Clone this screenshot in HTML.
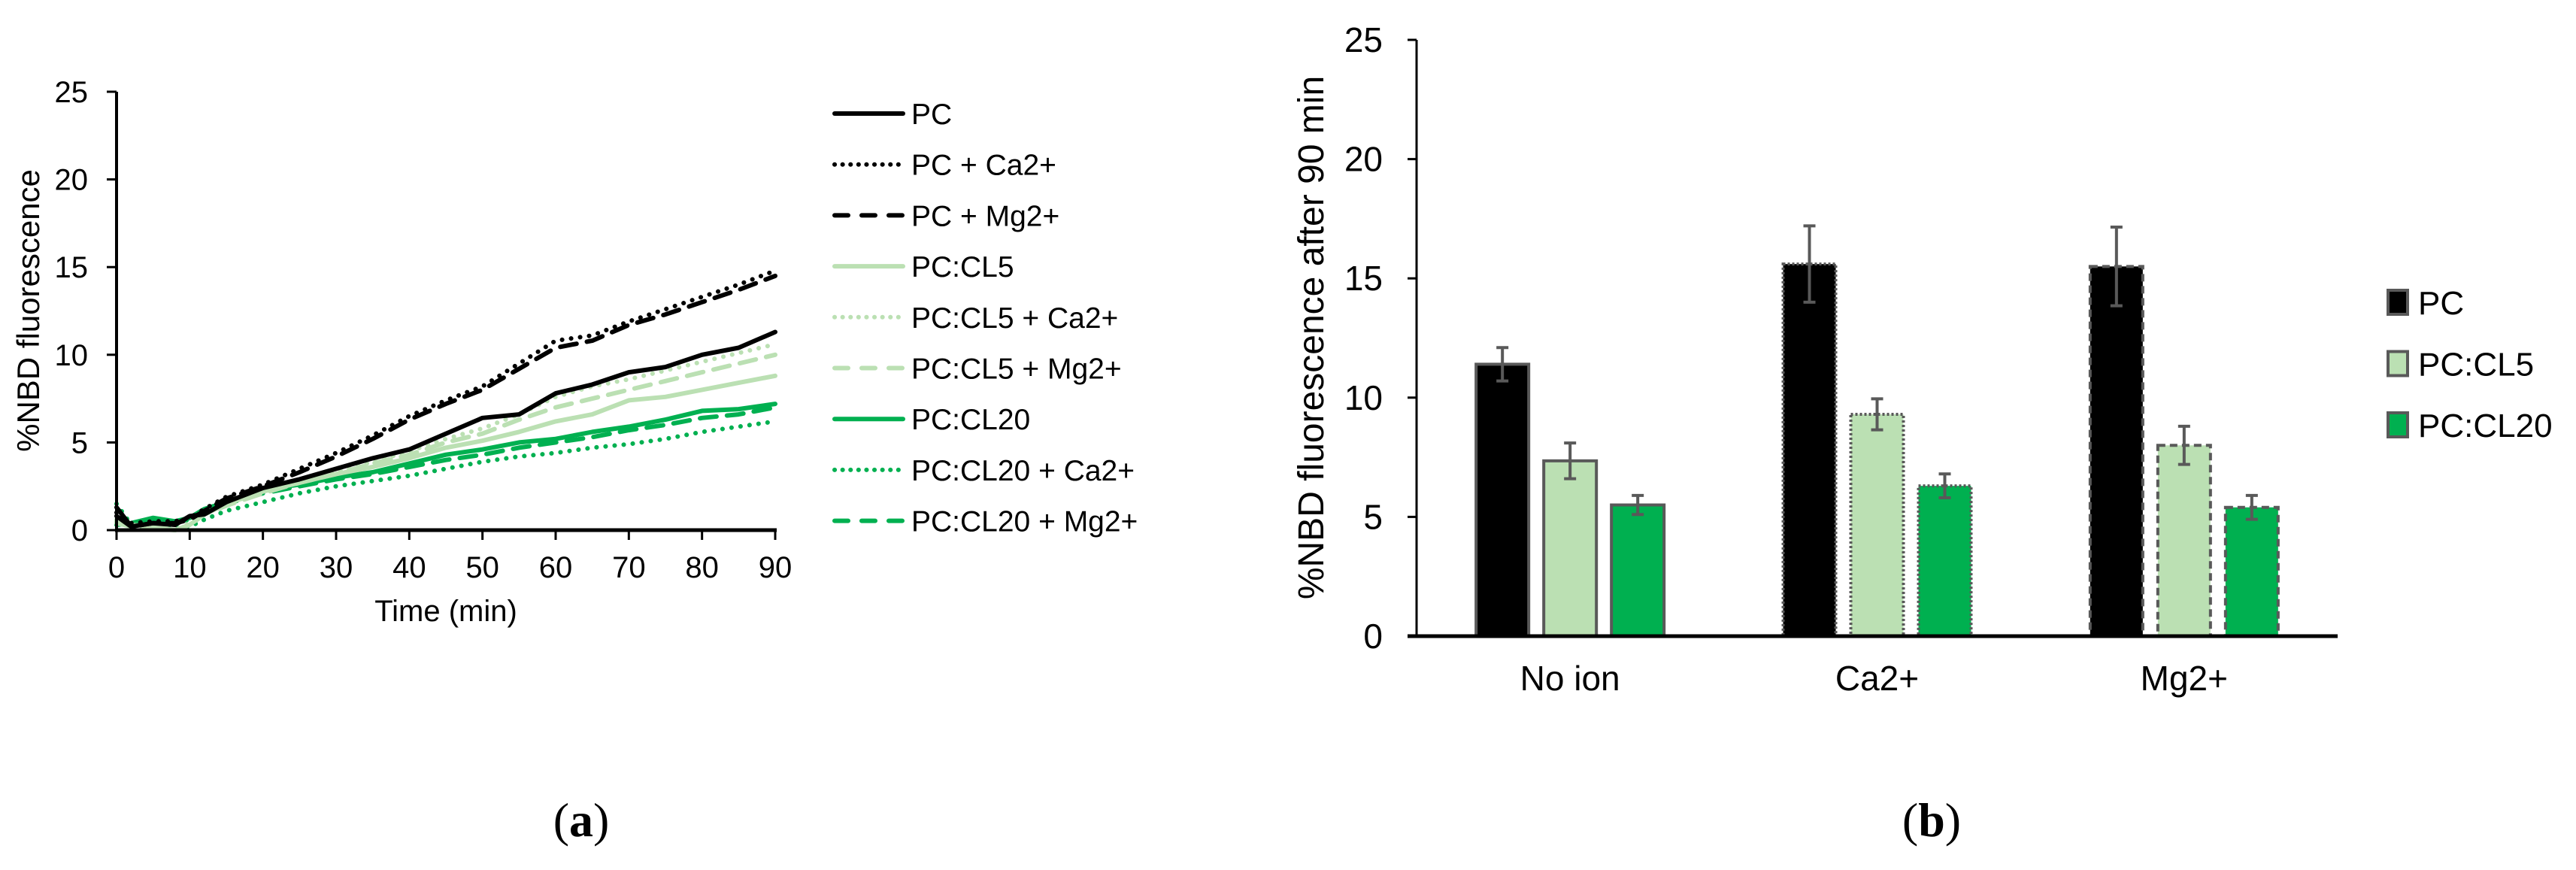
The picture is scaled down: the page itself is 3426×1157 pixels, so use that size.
<!DOCTYPE html>
<html><head><meta charset="utf-8"><style>
html,body{margin:0;padding:0;background:#fff}
svg{display:block}
text{font-family:"Liberation Sans",Arial,sans-serif;fill:#000}
</style></head><body>
<svg id="fig" width="3426" height="1157" viewBox="0 0 3426 1157" xmlns="http://www.w3.org/2000/svg">
<g id="chartA"></g>
<g id="chartB"></g>
<text x="773" y="1112" font-size="64" text-anchor="middle" style="font-family:'Liberation Serif',serif">(<tspan font-weight="bold">a</tspan>)</text>
<text x="2569" y="1112" font-size="64" text-anchor="middle" style="font-family:'Liberation Serif',serif">(<tspan font-weight="bold">b</tspan>)</text>
</svg>
<script>
// ---------- Chart A data ----------
const timesA = [0,2,5,8,10,12,15,20,25,30,35,40,45,50,55,60,65,70,75,80,85,90];
const seriesNames = ["PC","PC + Ca2+","PC + Mg2+","PC:CL5","PC:CL5 + Ca2+","PC:CL5 + Mg2+","PC:CL20","PC:CL20 + Ca2+","PC:CL20 + Mg2+"];
const pcVals      = [1.3,0.2,0.4,0.3,0.8,0.9,1.6,2.4,2.9,3.5,4.1,4.6,5.5,6.4,6.6,7.8,8.3,9.0,9.3,10.0,10.4,11.3];
const pcCaVals    = [1.0,0.4,0.5,0.5,0.7,1.2,1.9,2.6,3.5,4.4,5.4,6.5,7.4,8.2,9.5,10.8,11.1,11.9,12.6,13.3,14.0,14.8];
const pcMgVals    = [0.8,0.2,0.4,0.4,0.6,1.1,1.8,2.5,3.3,4.2,5.2,6.3,7.2,8.0,9.2,10.4,10.8,11.7,12.3,13.0,13.7,14.5];
const cl5Vals     = [0.6,0.3,0.2,0.0,0.3,0.9,1.5,2.2,2.7,3.2,3.6,4.1,4.7,5.1,5.6,6.2,6.6,7.4,7.6,8.0,8.4,8.8];
const cl5CaVals   = [0.5,0.2,0.1,0.0,0.4,1.0,1.5,2.2,2.8,3.3,3.9,4.5,5.2,5.8,6.6,7.6,8.2,8.6,9.1,9.6,10.1,10.6];
const cl5MgVals   = [0.4,0.2,0.1,0.0,0.3,0.9,1.4,2.1,2.7,3.2,3.8,4.3,5.0,5.5,6.3,7.0,7.5,8.0,8.5,9.0,9.5,10.0];
const cl20Vals    = [0.3,0.4,0.7,0.5,0.7,1.2,1.6,2.3,2.6,3.0,3.3,3.8,4.3,4.6,5.0,5.2,5.6,5.9,6.3,6.8,6.9,7.2];
const cl20CaVals  = [1.5,0.3,0.1,0.1,0.2,0.6,1.1,1.6,2.1,2.5,2.8,3.1,3.5,3.9,4.2,4.4,4.7,4.9,5.2,5.6,5.9,6.2];
const cl20MgVals  = [0.4,0.3,0.5,0.5,0.6,1.1,1.5,2.1,2.5,2.9,3.2,3.6,4.0,4.3,4.7,5.0,5.3,5.7,6.0,6.4,6.6,7.0];
const yTicksA = [0,5,10,15,20,25];
const xTicksA = [0,10,20,30,40,50,60,70,80,90];

// ---------- Chart B data ----------
const groupsB = ["No ion","Ca2+","Mg2+"];
const barSeriesB = ["PC","PC:CL5","PC:CL20"];
const pcBar   = [11.4,15.6,15.5];
const cl5Bar  = [7.35,9.3,8.0];
const cl20Bar = [5.5,6.3,5.4];
const pcErr   = [0.7,1.6,1.65];
const cl5Err  = [0.75,0.65,0.8];
const cl20Err = [0.4,0.5,0.5];
const yTicksB = [0,5,10,15,20,25];

const NS="http://www.w3.org/2000/svg";
function mk(tag, attrs, parent){const e=document.createElementNS(NS,tag);for(const k in attrs)e.setAttribute(k,attrs[k]);parent.appendChild(e);return e;}

// ---------- Chart A ----------
(function(){
const g=document.getElementById('chartA');
const x0=155,x1=1031,yB=705,yT=122;
const xs=t=>x0+(t/90)*(x1-x0);
const ys=v=>yB-(v/25)*(yB-yT);
const styles=[
 {c:"#000000",d:null},{c:"#000000",d:"0.1 12"},{c:"#000000",d:"22 14"},
 {c:"#BBE0B3",d:null},{c:"#BBE0B3",d:"0.1 12"},{c:"#BBE0B3",d:"22 14"},
 {c:"#00B050",d:null},{c:"#00B050",d:"0.1 12"},{c:"#00B050",d:"22 14"}];
const data=[pcVals,pcCaVals,pcMgVals,cl5Vals,cl5CaVals,cl5MgVals,cl20Vals,cl20CaVals,cl20MgVals];
const order=[7,8,6,5,4,3,0,2,1];
order.forEach(i=>{
 const pts=timesA.map((t,j)=>xs(t).toFixed(1)+","+ys(data[i][j]).toFixed(1)).join(" ");
 const p=mk('polyline',{points:pts,fill:'none',stroke:styles[i].c,'stroke-width':6,'stroke-linecap':'round','stroke-linejoin':'round'},g);
 if(styles[i].d)p.setAttribute('stroke-dasharray',styles[i].d);
 
 
});
const ya=mk('line',{x1:x0,y1:yT,x2:x0,y2:yB,stroke:'#000','stroke-width':4},g);


const xa=mk('line',{x1:x0-2,y1:yB,x2:x1+2,y2:yB,stroke:'#000','stroke-width':5},g);


yTicksA.forEach(v=>{
 mk('line',{x1:x0-13,y1:ys(v),x2:x0,y2:ys(v),stroke:'#000','stroke-width':3},g);
 const t=mk('text',{x:117,y:ys(v)+14,'font-size':40,'text-anchor':'end'},g);t.textContent=v;
 
 
});
xTicksA.forEach(v=>{
 mk('line',{x1:xs(v),y1:yB,x2:xs(v),y2:yB+13,stroke:'#000','stroke-width':3},g);
 const t=mk('text',{x:xs(v),y:768,'font-size':40,'text-anchor':'middle'},g);t.textContent=v;
 
 
});
const xt=mk('text',{x:593,y:826,'font-size':40,'text-anchor':'middle'},g);xt.textContent="Time (min)";


const yt=mk('text',{x:0,y:0,'font-size':42,'text-anchor':'middle',transform:'translate(52,413) rotate(-90)'},g);yt.textContent="%NBD fluorescence";


// legend
seriesNames.forEach((n,i)=>{
 const y=151+i*67.7;
 const l=mk('line',{x1:1110,y1:y,x2:1201,y2:y,stroke:styles[i].c,'stroke-width':6,'stroke-linecap':'round'},g);
 if(styles[i].d)l.setAttribute('stroke-dasharray',styles[i].d==="22 14"?"18 18":"0.1 10.5");
 
 
 const t=mk('text',{x:1212,y:y+14,'font-size':39},g);t.textContent=n;
 
 
});
})();

// ---------- Chart B ----------
(function(){
const g=document.getElementById('chartB');
const x0=1884,x1=3109,yB=846,yT=53;
const ys=v=>yB-(v/25)*(yB-yT);
const gw=(x1-x0)/groupsB.length;
const fills=["#000000","#BBE0B3","#00B050"];
const vals=[pcBar,cl5Bar,cl20Bar], errs=[pcErr,cl5Err,cl20Err];
const dashes=[null,"3 3","10 6"];
const bw=70,pitch=90;
yTicksB.forEach(v=>{
 mk('line',{x1:x0-12,y1:ys(v),x2:x0,y2:ys(v),stroke:'#000','stroke-width':3},g);
 const t=mk('text',{x:1839,y:ys(v)+16,'font-size':46,'text-anchor':'end'},g);t.textContent=v;
 
 
});
groupsB.forEach((gn,gi)=>{
 const c=x0+gw*(gi+0.5);
 vals.forEach((arr,si)=>{
  const cx=c+(si-1)*pitch;
  const r=mk('rect',{x:cx-bw/2,y:ys(arr[gi]),width:bw,height:yB-ys(arr[gi]),fill:fills[si],stroke:'#595959','stroke-width':4},g);
  if(dashes[gi])r.setAttribute('stroke-dasharray',dashes[gi]);
  
  
  const hi=ys(arr[gi]+errs[si][gi]), lo=ys(arr[gi]-errs[si][gi]);
  const e=mk('path',{d:`M${cx},${hi}V${lo}M${cx-8},${hi}H${cx+8}M${cx-8},${lo}H${cx+8}`,stroke:'#595959','stroke-width':4,fill:'none'},g);
  
  
 });
 const t=mk('text',{x:c,y:918,'font-size':46,'text-anchor':'middle'},g);t.textContent=gn;
 
 
});
const ya=mk('line',{x1:x0,y1:yT,x2:x0,y2:yB,stroke:'#000','stroke-width':3},g);


const xa=mk('line',{x1:x0-12,y1:yB,x2:x1,y2:yB,stroke:'#000','stroke-width':5},g);


const yt=mk('text',{x:0,y:0,'font-size':48,'text-anchor':'middle',transform:'translate(1760,449) rotate(-90)'},g);yt.textContent="%NBD fluorescence after 90 min";


barSeriesB.forEach((n,i)=>{
 const y=402+i*81.5;
 const r=mk('rect',{x:3176,y:y-16,width:26,height:32,fill:fills[i],stroke:'#595959','stroke-width':4},g);
 
 
 const t=mk('text',{x:3216,y:y+16,'font-size':44},g);t.textContent=n;
 
 
});
})();
</script>
</body></html>
